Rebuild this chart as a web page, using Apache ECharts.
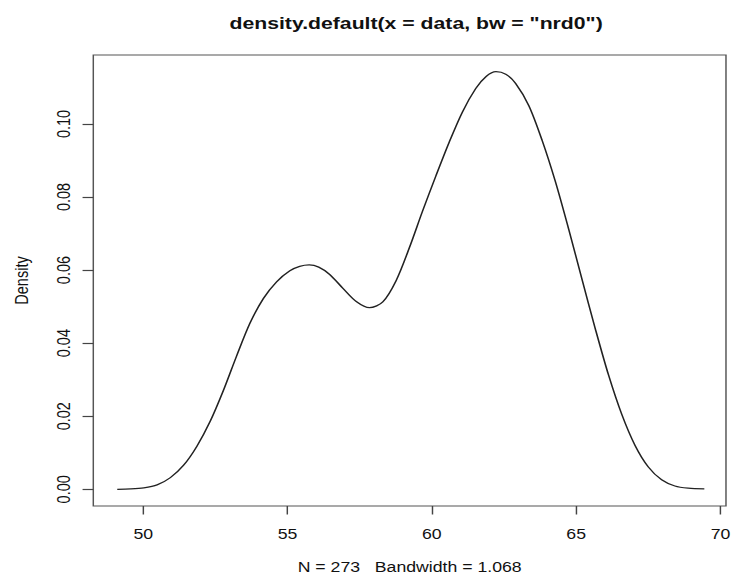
<!DOCTYPE html>
<html>
<head>
<meta charset="utf-8">
<script src="https://cdn.jsdelivr.net/npm/echarts@6/dist/echarts.min.js"></script>
<style>
html,body{margin:0;padding:0;background:#fff;overflow:hidden;}
#wrap{width:734px;height:579px;overflow:hidden;position:relative;}
#chart{position:absolute;left:0;top:0;transform-origin:0 0;}
</style>
</head>
<body>
<div id="wrap"><div id="chart"></div></div>
<script>
const titleText = 'density.default(x = data, bw = "nrd0")';
const xAxisTitle = 'N = 273   Bandwidth = 1.068';
const yAxisTitle = 'Density';
const xTicks = [50, 55, 60, 65, 70];
const yTicks = [0, 0.02, 0.04, 0.06, 0.08, 0.10];
const densX = [49.10, 49.56, 50.02, 50.48, 50.94, 51.40, 51.86, 52.32, 52.78, 53.24, 53.70, 54.16, 54.62, 55.08, 55.42, 55.75, 56.08, 56.46, 56.92, 57.38, 57.84, 58.30, 58.76, 59.22, 59.68, 60.14, 60.60, 61.06, 61.52, 61.88, 62.22, 62.56, 62.90, 63.36, 63.82, 64.28, 64.74, 65.20, 65.66, 66.12, 66.58, 67.04, 67.50, 67.96, 68.42, 68.88, 69.44];
const densY = [0.0000, 0.0001, 0.0004, 0.0012, 0.0032, 0.0066, 0.0118, 0.0186, 0.0271, 0.0366, 0.0455, 0.0522, 0.0568, 0.0598, 0.0610, 0.0614, 0.0608, 0.0588, 0.0550, 0.0514, 0.0497, 0.0513, 0.0571, 0.0661, 0.0762, 0.0858, 0.0950, 0.1033, 0.1097, 0.1130, 0.1143, 0.1136, 0.1111, 0.1050, 0.0955, 0.0842, 0.0712, 0.0575, 0.0440, 0.0313, 0.0205, 0.0120, 0.0061, 0.0026, 0.0009, 0.0003, 0.0001];

// the reference is an R plot resized non-uniformly: text is wider than tall
const sx = 1.22;
const W = 734 / sx, H = 579;
const font = 'Liberation Sans, Arial, Helvetica, sans-serif';
const el = document.getElementById('chart');
el.style.width = W + 'px';
el.style.height = H + 'px';
el.style.transform = 'scaleX(' + sx + ')';
const chart = echarts.init(el, null, {renderer: 'svg', width: W, height: H});
chart.setOption({
  animation: false,
  backgroundColor: '#ffffff',
  title: {
    text: titleText,
    left: 410 / sx,
    top: 9,
    textAlign: 'center',
    textStyle: {fontFamily: font, fontSize: 17.4, fontWeight: 'bold', color: '#111'}
  },
  grid: {
    left: 93.3 / sx, right: 7.3 / sx, top: 55, bottom: 71,
    show: true, borderColor: '#555', borderWidth: 1.2, backgroundColor: 'transparent'
  },
  xAxis: {
    type: 'value',
    min: 48.27, max: 70.19,
    name: xAxisTitle,
    nameLocation: 'middle',
    nameGap: 53,
    nameTextStyle: {fontFamily: font, fontSize: 14.5, color: '#111'},
    axisLine: {show: false, onZero: false},
    axisTick: {show: true, inside: false, length: 8.5, customValues: xTicks, lineStyle: {color: '#444', width: 1.2}},
    axisLabel: {show: true, customValues: xTicks, margin: 20.5, fontFamily: font, fontSize: 14.5, color: '#111'},
    splitLine: {show: false}
  },
  yAxis: {
    type: 'value',
    min: -0.00457, max: 0.11887,
    name: yAxisTitle,
    nameLocation: 'middle',
    nameGap: 51,
    nameRotate: 90,
    nameTextStyle: {fontFamily: font, fontSize: 14.5, color: '#111'},
    axisLine: {show: false, onZero: false},
    axisTick: {show: true, inside: false, length: 8.8, customValues: yTicks, lineStyle: {color: '#444', width: 1.2}},
    axisLabel: {show: true, customValues: yTicks, rotate: 90, margin: 16.7, fontFamily: font, fontSize: 14.5, color: '#111',
      formatter: v => v.toFixed(2)},
    splitLine: {show: false}
  },
  series: [{
    type: 'line',
    data: densX.map((x, i) => [x, densY[i]]),
    smooth: 0.3,
    showSymbol: false,
    lineStyle: {color: '#222', width: 1.3}
  }]
});
</script>
</body>
</html>
